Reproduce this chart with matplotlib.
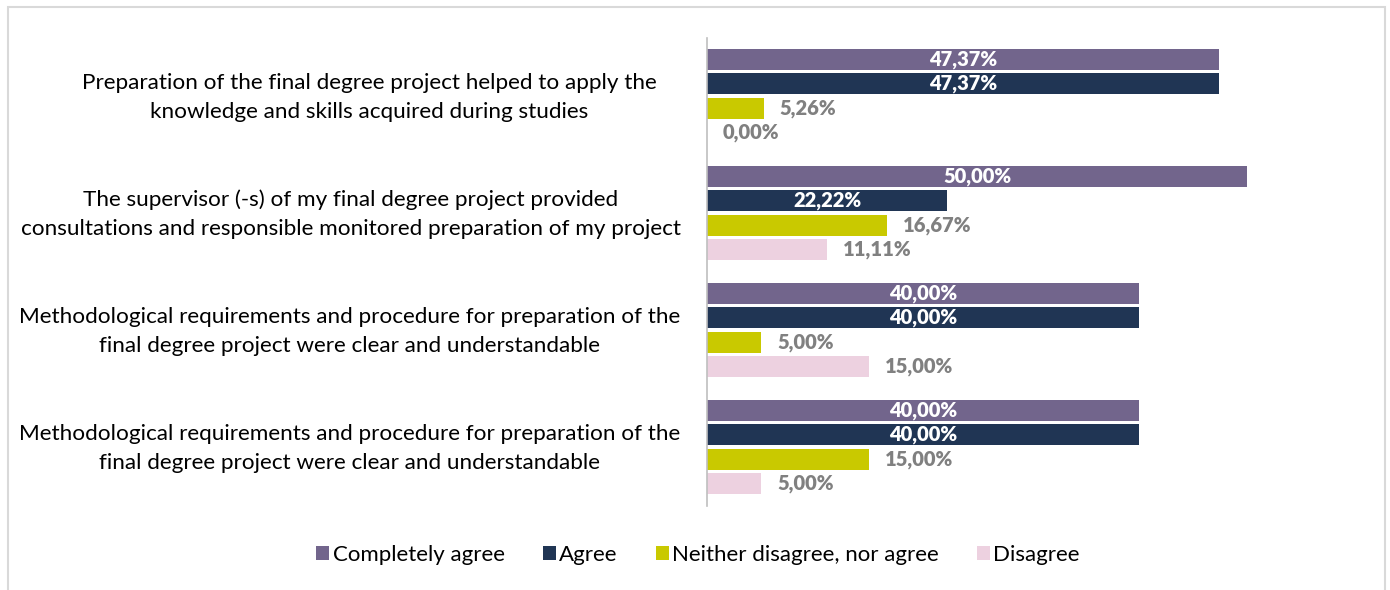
import matplotlib.pyplot as plt
from matplotlib.patches import Rectangle
from matplotlib.transforms import ScaledTranslation
import numpy as np

plt.rcParams['font.family'] = ['Lato', 'DejaVu Sans']

# statements (top to bottom)
statements = [
    "Preparation of the final degree project helped to apply the\nknowledge and skills acquired during studies",
    "The supervisor (-s) of my final degree project provided\nconsultations and responsible monitored preparation of my project",
    "Methodological requirements and procedure for preparation of the\nfinal degree project were clear and understandable",
    "Methodological requirements and procedure for preparation of the\nfinal degree project were clear and understandable",
]
series_names = ["Completely agree", "Agree", "Neither disagree, nor agree", "Disagree"]
completely_agree = [47.37, 50.00, 40.00, 40.00]
agree = [47.37, 22.22, 40.00, 40.00]
neither = [5.26, 16.67, 5.00, 15.00]
disagree = [0.00, 11.11, 15.00, 5.00]

colors = ["#72658C", "#203554", "#C9C900", "#EDD1E0"]
inside = [True, True, False, False]

fig = plt.figure(figsize=(13.9, 5.9), dpi=100)
ax = fig.add_axes([707 / 1390, 1 - 505.5 / 590, 648 / 1390, 468 / 590])

y = np.arange(len(statements))
step = 0.21
bar_h = 0.18
all_series = [completely_agree, agree, neither, disagree]

for i, (name, vals) in enumerate(zip(series_names, all_series)):
    pos = y + (i - 1.5) * step
    bars = ax.barh(pos, vals, height=bar_h, color=colors[i], label=name)
    for b, v in zip(bars, vals):
        txt = f"{v:.2f}%".replace(".", ",")
        yc = b.get_y() + b.get_height() / 2
        if inside[i]:
            ax.text(v / 2, yc, txt, ha='center', va='center', color='white',
                    fontsize=14.5, fontweight='heavy')
        else:
            ax.annotate(txt, (v, yc), xytext=(11.5, 0), textcoords='offset points',
                        ha='left', va='center', color='#808080',
                        fontsize=14.5, fontweight='heavy')

ax.set_xlim(0, 60)
ax.set_ylim(3.5, -0.5)
ax.set_yticks(y)
ax.set_yticklabels(statements, fontsize=16.2, multialignment='center',
                   linespacing=1.55)
ax.tick_params(axis='y', length=0, pad=19)
# nudge the two-line labels up a little (first one also sits further left)
for k, lab in enumerate(ax.get_yticklabels()):
    dx = -24 / 100 if k == 0 else 0
    lab.set_transform(lab.get_transform() +
                      ScaledTranslation(dx, 5 / 100, fig.dpi_scale_trans))
ax.set_xticks([])
for s in ['top', 'right', 'bottom']:
    ax.spines[s].set_visible(False)
ax.spines['left'].set_color('#BFBFBF')
ax.spines['left'].set_linewidth(1.2)

fig.legend(loc='center', bbox_to_anchor=(698 / 1390, 1 - 555 / 590), ncol=4,
           frameon=False, fontsize=16, handlelength=0.6, handleheight=0.6,
           handletextpad=0.15, columnspacing=1.7)

fig.patches.append(Rectangle((8 / 1390, -0.05), 1377 / 1390, 1.05 - 7 / 590,
                             transform=fig.transFigure, fill=False,
                             edgecolor='#D9D9D9', linewidth=1.5))

fig.savefig("out.png", dpi=100)
